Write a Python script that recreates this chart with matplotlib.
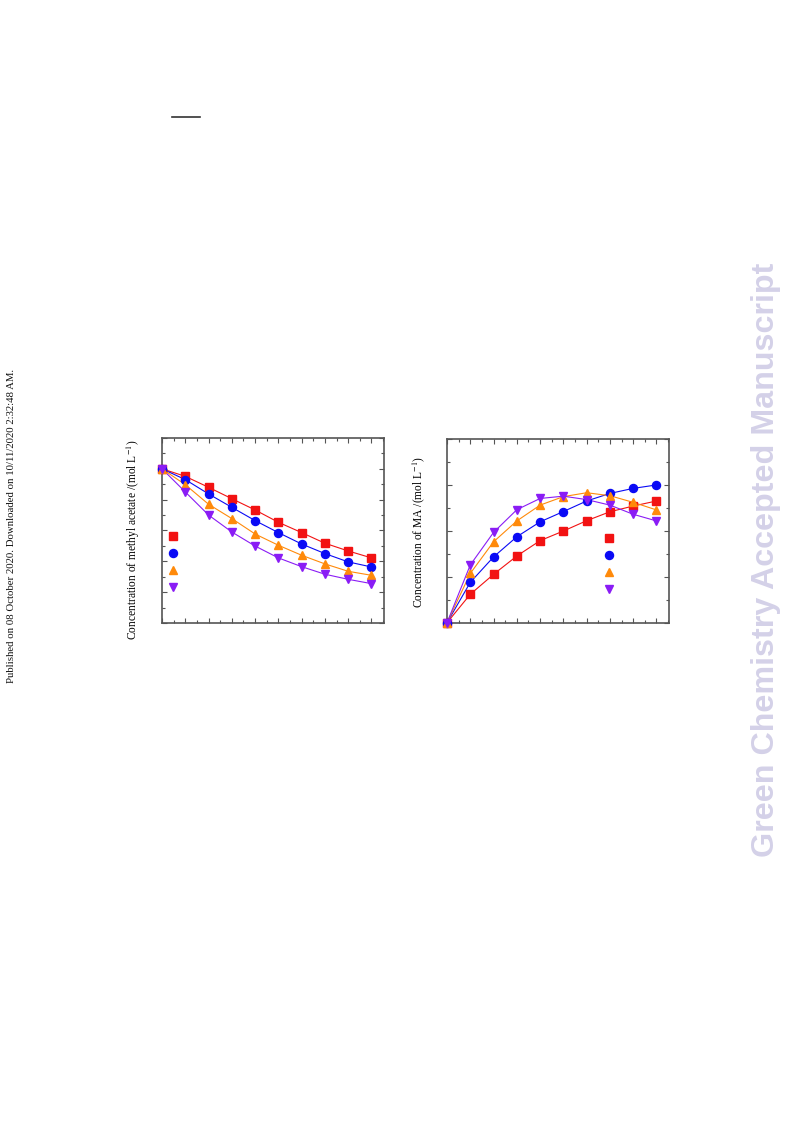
import matplotlib
matplotlib.use("Agg")
import matplotlib.pyplot as plt
from matplotlib.lines import Line2D
from matplotlib.ticker import MultipleLocator, NullFormatter

# ---------------- data ----------------
time_pts = [0, 1, 2, 3, 4, 5, 6, 7, 8, 9]

# left panel: concentration of methyl acetate (mol/L)
ma_acetate_red = [1.00, 0.951, 0.880, 0.806, 0.733, 0.653, 0.586, 0.517, 0.467, 0.422]
ma_acetate_blue = [1.00, 0.930, 0.837, 0.750, 0.664, 0.586, 0.512, 0.450, 0.396, 0.363]
ma_acetate_orange = [1.00, 0.897, 0.770, 0.677, 0.577, 0.504, 0.439, 0.383, 0.335, 0.309]
ma_acetate_purple = [1.00, 0.850, 0.700, 0.590, 0.499, 0.422, 0.365, 0.316, 0.283, 0.255]

# right panel: concentration of MA (mol/L)
ma_red = [0.0, 0.124, 0.211, 0.291, 0.358, 0.400, 0.445, 0.484, 0.509, 0.531]
ma_blue = [0.0, 0.176, 0.287, 0.375, 0.440, 0.485, 0.531, 0.564, 0.586, 0.601]
ma_orange = [0.0, 0.215, 0.353, 0.444, 0.513, 0.550, 0.567, 0.554, 0.525, 0.492]
ma_purple = [0.0, 0.252, 0.394, 0.493, 0.542, 0.552, 0.537, 0.513, 0.473, 0.444]

series_colors = ["#f21212", "#0a0af5", "#ff8a0a", "#8a1cf5"]
series_markers = ["s", "o", "^", "v"]
marker_sizes = [5.2, 5.8, 6.4, 6.4]

left_ylabel = "Concentration of methyl acetate /(mol L$^{-1}$)"
right_ylabel = "Concentration of MA /(mol L$^{-1}$)"
side_note = "Published on 08 October 2020. Downloaded on 10/11/2020 2:32:48 AM."
watermark = "Green Chemistry Accepted Manuscript"

# ---------------- figure ----------------
plt.rcParams["font.family"] = ["Liberation Serif", "DejaVu Serif"]
plt.rcParams["mathtext.fontset"] = "stix"

fig = plt.figure(figsize=(7.93, 11.21), dpi=100)

ax1 = fig.add_axes([0.2043, 0.4443, 0.2800, 0.1650])
ax2 = fig.add_axes([0.5637, 0.4445, 0.2800, 0.1636])


def style_axes(ax, ymax, ymajor, yminor):
    ax.set_xlim(0, 9.54)
    ax.set_ylim(0, ymax)
    ax.xaxis.set_major_locator(MultipleLocator(1))
    ax.xaxis.set_minor_locator(MultipleLocator(0.5))
    ax.yaxis.set_major_locator(MultipleLocator(ymajor))
    ax.yaxis.set_minor_locator(MultipleLocator(yminor))
    ax.xaxis.set_major_formatter(NullFormatter())
    ax.yaxis.set_major_formatter(NullFormatter())
    ax.tick_params(which="both", direction="in", top=True, right=True,
                   color="#555555", width=0.8)
    ax.tick_params(which="major", length=3.5)
    ax.tick_params(which="minor", length=2.0)
    for s in ax.spines.values():
        s.set_color("#555555")
        s.set_linewidth(1.2)


def draw_panel(ax, data_list, ylabel, legend_anchor, label_xy):
    handles = []
    for ys, c, m, ms in zip(data_list, series_colors, series_markers, marker_sizes):
        ax.plot(time_pts, ys, color=c, lw=0.8, zorder=2)
        ax.plot(time_pts, ys, linestyle="none", marker=m, ms=ms,
                color=c, markeredgecolor=c, zorder=3, clip_on=False)
        handles.append(Line2D([], [], linestyle="none", marker=m, ms=ms,
                              color=c, markeredgecolor=c))
    ax.legend(handles, [" "] * 4, loc="upper left", bbox_to_anchor=legend_anchor,
              frameon=False, fontsize=8, handlelength=1.0, handletextpad=0.0,
              borderpad=0.0, borderaxespad=0.0, labelspacing=0.65)
    ax.set_ylabel(ylabel, fontsize=8.3)
    ax.yaxis.set_label_coords(*label_xy)


style_axes(ax1, 1.2, 0.2, 0.1)
style_axes(ax2, 0.8, 0.2, 0.1)

draw_panel(ax1, [ma_acetate_red, ma_acetate_blue, ma_acetate_orange, ma_acetate_purple],
           left_ylabel, (0.024, 0.49), (-0.0885, 0.449))
draw_panel(ax2, [ma_red, ma_blue, ma_orange, ma_purple],
           right_ylabel, (0.704, 0.485), (-0.0885, 0.495))

# page decorations
fig.add_artist(Line2D([172 / 793, 200 / 793], [1 - 117 / 1121, 1 - 117 / 1121],
                      color="#333333", lw=1.2, transform=fig.transFigure))
fig.text(12 / 793, 1 - 526 / 1121, side_note, rotation=90, ha="center", va="center",
         fontsize=7.75, color="#111111")
fig.text(766 / 793, 1 - 560 / 1121, watermark, rotation=90, ha="center", va="center",
         fontsize=23.2, fontweight="bold", color="#d4d1e8",
         family=["Liberation Sans", "DejaVu Sans"])

fig.savefig("out.png", dpi=100)
